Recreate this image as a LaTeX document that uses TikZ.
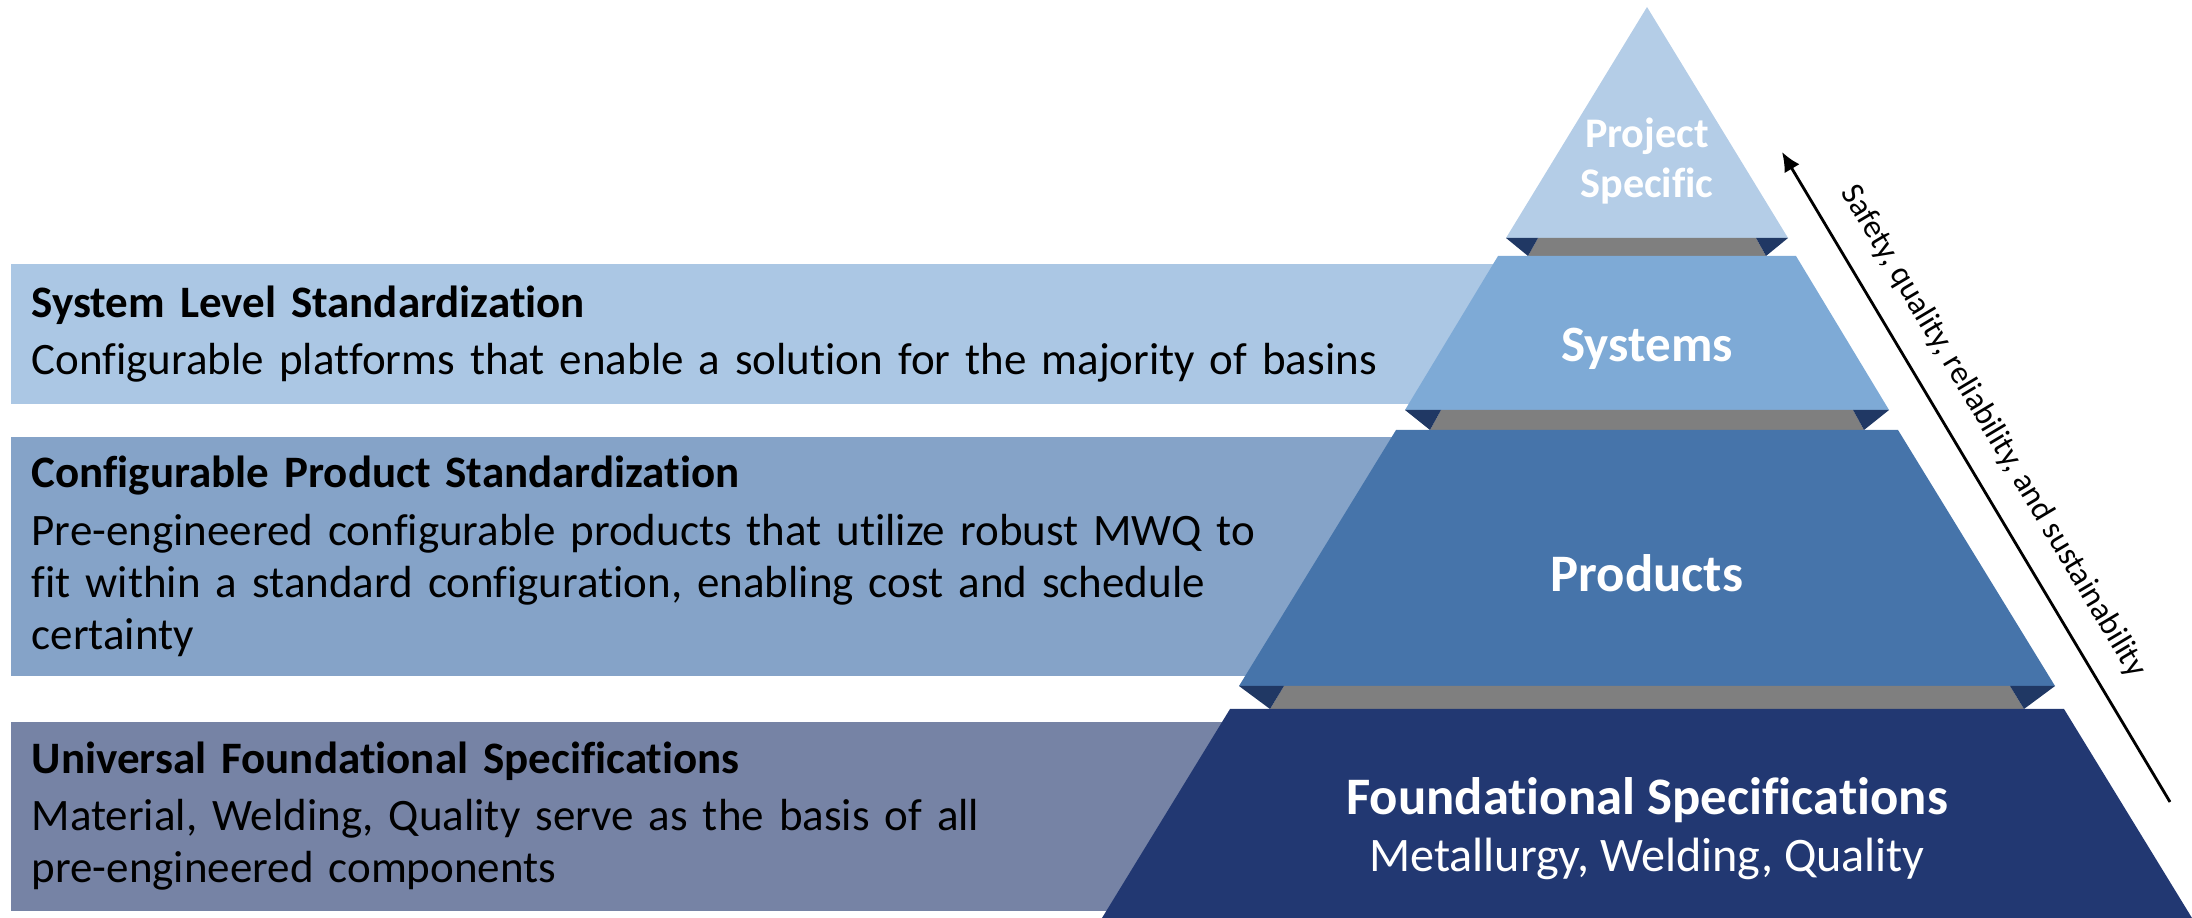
\documentclass[tikz,border=0pt]{standalone}
\usepackage{fontspec}
\setmainfont[Ligatures=NoCommon]{Carlito}
\usetikzlibrary{positioning,arrows.meta}

\definecolor{tipc}{HTML}{B4CDE7}
\definecolor{sysc}{HTML}{7EAAD6}
\definecolor{prodc}{HTML}{4674AA}
\definecolor{founc}{HTML}{223872}
\definecolor{shadec}{HTML}{203864}
\definecolor{gapc}{HTML}{7F7F7F}
\definecolor{bandonec}{HTML}{ABC7E4}
\definecolor{bandtwoc}{HTML}{85A3C8}
\definecolor{bandthreec}{HTML}{7683A5}

\begin{document}
\begin{tikzpicture}[
x=0.1mm, y=-0.1mm,
band/.style={
  anchor=north west,
  inner xsep=2.1mm,
  inner ysep=0pt,
  align=left,
  text width=159.5mm,
  font=\fontsize{12.8}{14.8}\selectfont
},
lvl/.style={
  text=white,
  align=center,
  inner sep=0pt
},
shade/.style={fill=shadec},
gap/.style={fill=gapc}
]
\useasboundingbox (0,0) rectangle (2192,918);

% bands on the left, behind the pyramid
\node[band,fill=bandonec,minimum height=14mm] (sysband) at (10,263)
  {\textbf{System Level Standardization}\\[1.4pt]
   Configurable platforms that enable a solution for the majority of basins};
\node[band,fill=bandtwoc,minimum height=23.9mm] (prodband) at (10,436)
  {\textbf{Configurable Product Standardization}\\[1.8pt]
   Pre-engineered configurable products that utilize robust MWQ to\\
   fit within a standard configuration, enabling cost and schedule\\
   certainty};
\node[band,fill=bandthreec,minimum height=18.9mm] (founband) at (10,721)
  {\textbf{Universal Foundational Specifications}\\[1.4pt]
   Material, Welding, Quality serve as the basis of all\\
   pre-engineered components};

% pyramid levels
\fill[tipc] (1647,7) -- (1788,238) -- (1506,238) -- cycle;
\fill[gap] (1538,238) -- (1756,238) -- (1766,256) -- (1528,256) -- cycle;
\fill[shade] (1506,238) -- (1538,238) -- (1528,256) -- cycle;
\fill[shade] (1788,238) -- (1756,238) -- (1766,256) -- cycle;

\fill[sysc] (1498,256) -- (1796,256) -- (1889,410) -- (1405,410) -- cycle;
\fill[gap] (1441,410) -- (1853,410) -- (1864,430) -- (1430,430) -- cycle;
\fill[shade] (1405,410) -- (1441,410) -- (1430,430) -- cycle;
\fill[shade] (1889,410) -- (1853,410) -- (1864,430) -- cycle;

\fill[prodc] (1396,430) -- (1898,430) -- (2055,686) -- (1239,686) -- cycle;
\fill[gap] (1284,686) -- (2010,686) -- (2024,709) -- (1270,709) -- cycle;
\fill[shade] (1239,686) -- (1284,686) -- (1270,709) -- cycle;
\fill[shade] (2055,686) -- (2010,686) -- (2024,709) -- cycle;

\fill[founc] (1230,709) -- (2064,709) -- (2192,918) -- (1102,918) -- cycle;

% level labels
\node[lvl,font=\bfseries\fontsize{12}{14.2}\selectfont] (tiplbl) at (1647,161)
  {Project\\Specific};
\node[lvl,font=\bfseries\fontsize{14.5}{17}\selectfont] (syslbl) at (1647,349)
  {Systems};
\node[lvl,font=\bfseries\fontsize{15}{18}\selectfont] (prodlbl) at (1647,573)
  {Products};
\node[lvl,font=\bfseries\fontsize{15}{18}\selectfont] (founlbl) at (1647,800)
  {Foundational Specifications};
\node[lvl,font=\fontsize{13.7}{16}\selectfont] (founsub) at (1647,859)
  {Metallurgy, Welding, Quality};

% side arrow
\coordinate (arrlow) at (2170,802);
\coordinate (arrhigh) at (1782,152);
\draw[line width=0.8pt,-{Latex[length=5.5pt,width=5pt]}] (arrlow) --
  node[pos=0.54,sloped,above=2.3mm,inner sep=0pt,font=\fontsize{9.3}{11}\selectfont]
  (arrlbl) {Safety, quality, reliability, and sustainability} (arrhigh);

\end{tikzpicture}
\end{document}
